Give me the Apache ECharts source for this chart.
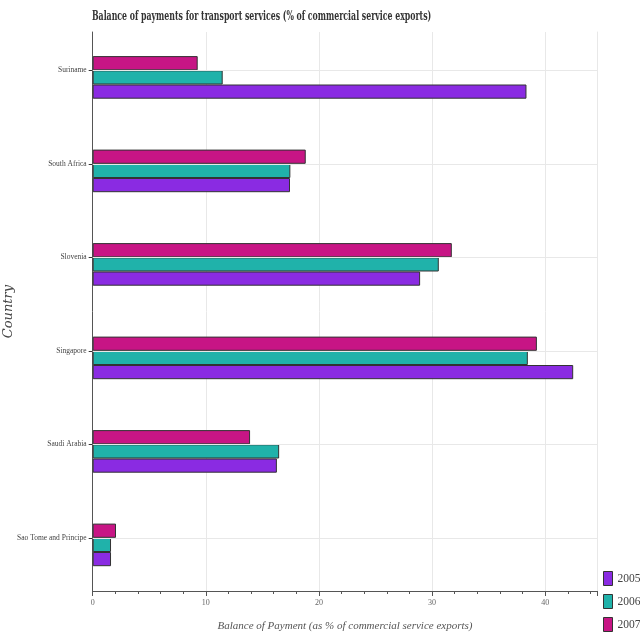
<!DOCTYPE html>
<html>
<head>
<meta charset="utf-8">
<script src="https://cdn.jsdelivr.net/npm/echarts@6/dist/echarts.min.js"></script>
<style>html,body{margin:0;padding:0;background:#fff}#c{width:640px;height:640px}</style>
</head>
<body>
<div id="c"></div>
<script>
const categories = ['Sao Tome and Principe', 'Saudi Arabia', 'Singapore', 'Slovenia', 'South Africa', 'Suriname'];
const years = ['2005', '2006', '2007'];
const v2005 = [1.62, 16.28, 42.47, 28.94, 17.44, 38.34];
const v2006 = [1.62, 16.48, 38.46, 30.59, 17.47, 11.49];
const v2007 = [2.06, 13.91, 39.26, 31.74, 18.83, 9.28];
const xTicks = [0, 10, 20, 30, 40];
const titleText = 'Balance of payments for transport services (% of commercial service exports)';

const FONT = "'DejaVu Serif'";
const NARROW = "'Liberation Serif'";
const colors = {'2005': '#8a2be2', '2006': '#20b2aa', '2007': '#c71585'};
const seriesValues = {'2005': v2005, '2006': v2006, '2007': v2007};
const XMAX = 44.6;

const chart = echarts.init(document.getElementById('c'), null, {renderer: 'canvas'});
// first series occupies the top slot; the empty slot keeps the label at the 2007/2006 seam
const drawOrder = ['', '2007', '2006', '2005'];
const barSeries = drawOrder.map((y) => ({
  name: y, type: 'bar', xAxisIndex: 0, yAxisIndex: 0,
  data: y ? seriesValues[y] : categories.map(() => '-'),
  barWidth: 14.2, barGap: '0%', z: 3,
  itemStyle: {color: y ? colors[y] : 'transparent', borderColor: '#333', borderWidth: 1}
}));
const gridLineSeries = {
  name: 'gridlines', type: 'line', xAxisIndex: 0, yAxisIndex: 0,
  data: categories.map(() => '-'), z: 1, silent: true,
  markLine: {
    silent: true, symbol: 'none',
    label: {show: false},
    lineStyle: {color: '#e8e8e8', width: 1, type: 'solid'},
    data: categories.map(c => ({yAxis: c}))
  }
};
const option = {
  animation: false,
  graphic: [{
    type: 'text', x: 92, y: 11, scaleX: 0.65, scaleY: 1,
    style: {text: titleText, font: "bold 12px 'DejaVu Serif'", fill: '#333'}
  }],
  legend: {
    orient: 'vertical', left: 603, top: 571, padding: 0,
    itemWidth: 9, itemHeight: 14, itemGap: 8, icon: 'rect',
    data: years,
    textStyle: {fontFamily: NARROW, fontSize: 11.5, color: '#444'},
    itemStyle: {borderColor: '#333', borderWidth: 1}
  },
  grid: [
    {left: 92.7, right: 42.7, top: 23.55, height: 561, containLabel: false, outerBoundsMode: 'none'},
    {left: 92.7, right: 42.7, top: 32, bottom: 49, containLabel: false, outerBoundsMode: 'none'}
  ],
  xAxis: [
    {gridIndex: 0, type: 'value', min: 0, max: XMAX, show: false},
    {
      gridIndex: 1, type: 'value', min: 0, max: XMAX, interval: 10,
      name: 'Balance of Payment (as % of commercial service exports)',
      nameLocation: 'middle', nameGap: 30,
      nameTextStyle: {fontFamily: NARROW, fontStyle: 'italic', fontSize: 11, color: '#555'},
      axisLine: {show: true, lineStyle: {color: '#555', width: 1}},
      axisTick: {show: true, length: 5, lineStyle: {color: '#555'}},
      minorTick: {show: true, splitNumber: 5, length: 3, lineStyle: {color: '#555'}},
      axisLabel: {fontFamily: NARROW, fontSize: 8, color: '#666', margin: 8,
        customValues: xTicks},
      splitLine: {show: true, lineStyle: {color: '#e8e8e8', width: 1}}
    }
  ],
  yAxis: [
    {
      gridIndex: 0, type: 'category', data: categories,
      axisLine: {show: false},
      axisTick: {show: true, alignWithLabel: true, length: 4, lineStyle: {color: '#333'}},
      axisLabel: {fontFamily: NARROW, fontSize: 7.5, color: '#444', margin: 6},
      splitLine: {show: false}
    },
    {
      gridIndex: 1, type: 'value', min: 0, max: 1,
      name: 'Country', nameLocation: 'middle', nameGap: 78, nameRotate: 90,
      nameTextStyle: {fontFamily: FONT, fontStyle: 'italic', fontSize: 13, color: '#444'},
      axisLine: {show: true, lineStyle: {color: '#555', width: 1}},
      axisTick: {show: false}, axisLabel: {show: false}, splitLine: {show: false}
    },
    {
      gridIndex: 1, type: 'value', min: 0, max: 1, position: 'right',
      axisLine: {show: true, lineStyle: {color: '#e8e8e8', width: 1}},
      axisTick: {show: false}, axisLabel: {show: false}, splitLine: {show: false}
    }
  ],
  series: [gridLineSeries].concat(barSeries)
};
chart.setOption(option);
</script>
</body>
</html>
